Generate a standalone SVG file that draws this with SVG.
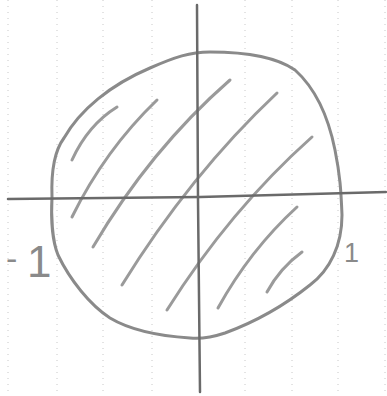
<svg xmlns="http://www.w3.org/2000/svg" width="387" height="396" viewBox="0 0 387 396">
<style>
.grid{stroke:#c8c8c8;stroke-width:1;stroke-dasharray:1 5;fill:none}
.pencil{fill:none;stroke:#8a8a8a;stroke-width:3;stroke-linecap:round;stroke-linejoin:round}
.axis{fill:none;stroke:#6a6a6a;stroke-width:2.5;stroke-linecap:round}
.hatch{fill:none;stroke:#9a9a9a;stroke-width:3;stroke-linecap:round}
.lbl{font-family:"Liberation Sans",Arial,sans-serif;fill:#8a8a8a}
</style>
<rect width="387" height="396" fill="#fff"/>
<g id="paper">
<line class="grid" x1="8" y1="0" x2="8" y2="396"/>
<line class="grid" x1="57" y1="0" x2="57" y2="396"/>
<line class="grid" x1="103" y1="0" x2="103" y2="396"/>
<line class="grid" x1="152" y1="0" x2="152" y2="396"/>
<line class="grid" x1="245" y1="0" x2="245" y2="396"/>
<line class="grid" x1="292" y1="0" x2="292" y2="396"/>
<line class="grid" x1="338" y1="0" x2="338" y2="396"/>
<line class="grid" x1="385" y1="0" x2="385" y2="396"/>
</g>
<g id="hatching">
<path class="hatch" d="M72,160 Q88,125 117,107"/>
<path class="hatch" d="M72,217 Q105,150 157,100"/>
<path class="hatch" d="M93,247 Q150,150 230,80"/>
<path class="hatch" d="M122,285 Q190,175 277,93"/>
<path class="hatch" d="M167,310 Q230,210 312,137"/>
<path class="hatch" d="M218,308 Q250,250 297,207"/>
<path class="hatch" d="M267,292 Q280,268 302,252"/>
</g>
<g id="circle">
<path class="pencil" d="M52,197 C51,170 55,150 64,138 C80,110 110,85 150,68 C175,57 190,52 210,52 C245,52 275,56 295,70 C315,88 328,115 335,150 C340,175 341,190 342,215 C342,245 330,270 310,285 C285,305 255,322 225,333 C210,338 200,339 190,338 C160,336 130,330 110,318 C90,305 70,280 58,255 C52,240 51,215 52,197 Z"/>
</g>
<g id="axes">
<path class="axis" d="M197,5 L198,200 L200,392"/>
<path class="axis" d="M8,199 L200,197 L386,192"/>
</g>
<g id="label-minus-one">
<text class="lbl"><tspan x="6" y="270" font-size="34">-</tspan><tspan x="27" y="277" font-size="44">1</tspan></text>
</g>
<g id="label-one">
<text class="lbl" x="344" y="262" font-size="27">1</text>
</g>
</svg>
